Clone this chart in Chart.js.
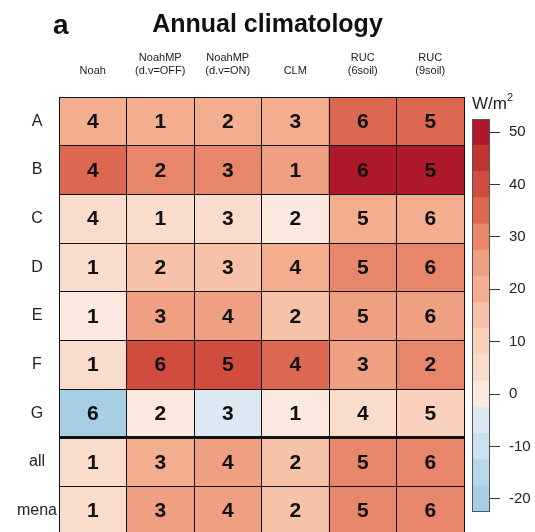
<!DOCTYPE html>
<html>
<head>
<meta charset="utf-8">
<script src="https://cdn.jsdelivr.net/npm/chart.js@4"></script>
<style>
  html, body { margin: 0; padding: 0; background: #fff; overflow: hidden; }
  #wrap { position: relative; width: 535px; height: 532px; overflow: hidden; font-family: "Liberation Sans", Arial, sans-serif; }
  #heat { position: absolute; left: 0; top: 0; }
  #bar { position: absolute; left: 440px; top: 0; }
  .panel { position: absolute; left: 53px; top: 9px; font-size: 28px; font-weight: bold; color: #111; }
  .title { position: absolute; left: 0; width: 535px; top: 9px; text-align: center; font-size: 25px; font-weight: bold; color: #111; }
  .unit { position: absolute; left: 472px; top: 92px; font-size: 17px; color: #222; }
  .unit sup { font-size: 11px; position: relative; top: -1px; }
</style>
</head>
<body>
<div id="wrap">
  <canvas id="heat" width="535" height="545"></canvas>
  <canvas id="bar" width="95" height="532"></canvas>
  <div class="panel">a</div>
  <div class="title">Annual climatology</div>
  <div class="unit">W/m<sup>2</sup></div>
</div>
<script>
// rows and columns of the table
const rowNames = ['A', 'B', 'C', 'D', 'E', 'F', 'G', 'all', 'mena'];
const colNames = [['Noah'], ['NoahMP', '(d.v=OFF)'], ['NoahMP', '(d.v=ON)'], ['CLM'], ['RUC', '(6soil)'], ['RUC', '(9soil)']];

// bias in W/m2
const values = [
    [20, 18, 18, 18, 36, 35],
    [36, 29, 30, 26, 51, 51],
    [7, 7, 7, 2, 21, 21],
    [6, 14, 15, 19, 30, 29],
    [1, 24, 24, 14, 23, 23],
    [6, 42, 42, 36, 26, 29],
    [-20, 1, -5, 1, 4, 9],
    [6, 20, 24, 15, 30, 30],
    [6, 25, 25, 15, 31, 31]
];

// rank printed in each cell
const ranks = [
    [4, 1, 2, 3, 6, 5],
    [4, 2, 3, 1, 6, 5],
    [4, 1, 3, 2, 5, 6],
    [1, 2, 3, 4, 5, 6],
    [1, 3, 4, 2, 5, 6],
    [1, 6, 5, 4, 3, 2],
    [6, 2, 3, 1, 4, 5],
    [1, 3, 4, 2, 5, 6],
    [1, 3, 4, 2, 5, 6]
];

// colour bar: bin edges, bin colours, tick labels
const binEdges = [-22.5, -17.5, -12.5, -7.5, -2.5, 2.5, 7.5, 12.5, 17.5, 22.5, 27.5, 32.5, 37.5, 42.5, 47.5, 52.5];
const binColors = ['#a6cee4', '#b8d7e9', '#cae1ee', '#dce9f2', '#fbe8df', '#fadccd', '#f9d1bd', '#f6c2a8', '#f3ae90', '#ef9f82', '#e7866b', '#dc6851', '#cf4c3f', '#c13532', '#b0182b'];
const barTicks = [-20, -10, 0, 10, 20, 30, 40, 50];

const FONT = '"Liberation Sans", Arial, sans-serif';

function colorFor(v) {
    for (let i = 0; i < binColors.length; i++) {
        if (v < binEdges[i + 1]) return binColors[i];
    }
    return binColors[binColors.length - 1];
}

// write the rank in the middle of each cell
const rankLabels = {
    id: 'rankLabels',
    afterDraw(chart) {
        const ctx = chart.ctx;
        ctx.save();
        ctx.font = 'bold 21px ' + FONT;
        ctx.fillStyle = '#111';
        ctx.textAlign = 'center';
        ctx.textBaseline = 'middle';
        chart.data.datasets.forEach((ds, i) => {
            chart.getDatasetMeta(i).data.forEach((bar, j) => {
                const yMid = (bar.y + bar.base) / 2;
                ctx.fillText(String(ds.ranks[j]), bar.x, yMid + 1);
            });
        });
        ctx.restore();
    }
};

const heatData = rowNames.map((name, i) => ({
    label: name,
    data: colNames.map(() => [i, i + 1]),
    backgroundColor: values[i].map(colorFor),
    ranks: ranks[i],
    borderWidth: 0,
    grouped: false,
    barPercentage: 1,
    categoryPercentage: 1
}));

new Chart(document.getElementById('heat'), {
    type: 'bar',
    data: { labels: colNames, datasets: heatData },
    options: {
        responsive: false,
        animation: false,
        layout: { padding: { top: 0, left: 0, right: 71, bottom: 10 } },
        plugins: { legend: { display: false }, tooltip: { enabled: false } },
        scales: {
            x: {
                position: 'top',
                grid: { offset: true, color: '#111', lineWidth: 1, drawTicks: false, z: 1 },
                border: { display: false },
                ticks: { padding: 19, color: '#222', font: { family: FONT, size: 11 } },
                afterFit: s => { s.height = 97; }
            },
            y: {
                type: 'linear',
                reverse: true,
                min: 0,
                max: 9,
                afterBuildTicks: s => { s.ticks = rowNames.concat(['']).map((_, k) => ({ value: k })); },
                ticks: { display: false },
                grid: { color: '#111', lineWidth: c => (c.tick.value === 7 ? 3 : 1), drawTicks: false, z: 1 },
                border: { display: false },
                afterFit: s => { s.width = 0; }
            },
            yl: {
                type: 'category',
                labels: rowNames,
                position: 'left',
                offset: true,
                grid: { display: false },
                border: { display: false },
                ticks: { crossAlign: 'center', padding: -6, color: '#222', font: { family: FONT, size: 16 } },
                afterFit: s => { s.width = 59; }
            }
        }
    },
    plugins: [rankLabels]
});

// outline around the colour bar
const barFrame = {
    id: 'barFrame',
    afterDatasetsDraw(chart) {
        const a = chart.chartArea;
        const ctx = chart.ctx;
        ctx.save();
        ctx.strokeStyle = '#555';
        ctx.lineWidth = 1;
        ctx.strokeRect(a.left + 0.5, a.top + 0.5, a.right - a.left - 1, a.bottom - a.top - 1);
        ctx.restore();
    }
};

const barData = binColors.map((c, i) => ({
    data: [[binEdges[i], binEdges[i + 1]]],
    backgroundColor: c,
    borderWidth: 0,
    grouped: false,
    barPercentage: 1,
    categoryPercentage: 1
}));

new Chart(document.getElementById('bar'), {
    type: 'bar',
    data: { labels: ['bins'], datasets: barData },
    options: {
        responsive: false,
        animation: false,
        layout: { padding: { top: 119, left: 32, right: 0, bottom: 20 } },
        plugins: { legend: { display: false }, tooltip: { enabled: false } },
        scales: {
            x: { display: false },
            y: {
                position: 'right',
                min: binEdges[0],
                max: binEdges[binEdges.length - 1],
                afterBuildTicks: s => { s.ticks = barTicks.map(v => ({ value: v })); },
                grid: { drawOnChartArea: false, drawTicks: true, tickLength: 10, color: '#333' },
                border: { display: false },
                ticks: { padding: 9, color: '#222', font: { family: FONT, size: 15 } },
                afterFit: s => { s.width = 45; }
            }
        }
    },
    plugins: [barFrame]
});
</script>
</body>
</html>
